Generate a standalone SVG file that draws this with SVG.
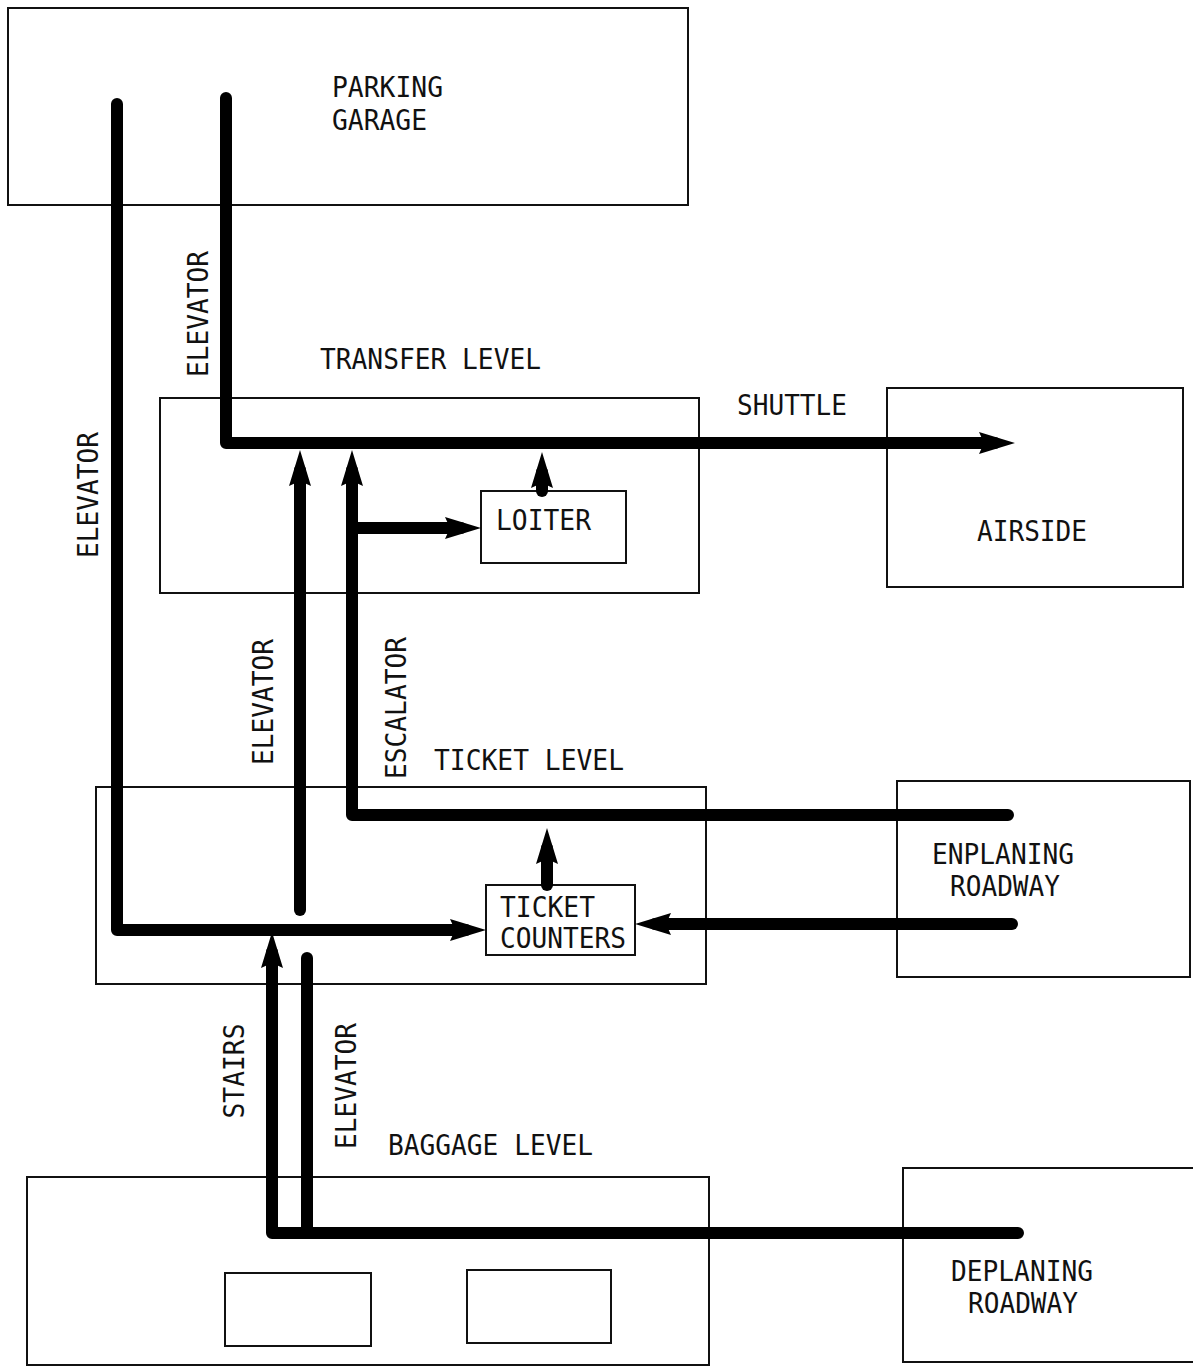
<svg xmlns="http://www.w3.org/2000/svg" width="1193" height="1370" viewBox="0 0 1193 1370">
<style>
.box{fill:none;stroke:#111;stroke-width:2}
.pipe{fill:none;stroke:#000;stroke-width:12;stroke-linecap:round;stroke-linejoin:round}
.arr{marker-end:url(#head)}
text{font-family:"DejaVu Sans Mono","Liberation Mono",monospace;font-size:28px;fill:#111;lengthAdjust:spacingAndGlyphs}
</style>
<defs>
<marker id="head" markerUnits="userSpaceOnUse" markerWidth="40" markerHeight="24" refX="16" refY="11" orient="auto">
<path d="M0,0 L36,11 L0,22 L5,11 z" fill="#000"/>
</marker>
</defs>
<rect width="1193" height="1370" fill="#fff"/>

<g id="parking-garage">
<rect class="box" x="8" y="8" width="680" height="197"/>
<text x="332" y="97" textLength="111" lengthAdjust="spacingAndGlyphs">PARKING</text>
<text x="332" y="130" textLength="95" lengthAdjust="spacingAndGlyphs">GARAGE</text>
</g>

<g id="transfer-level">
<rect class="box" x="160" y="398" width="539" height="195"/>
<text x="320" y="369" textLength="221" lengthAdjust="spacingAndGlyphs">TRANSFER LEVEL</text>
</g>

<g id="loiter">
<rect class="box" x="481" y="491" width="145" height="72"/>
<text x="496" y="530" textLength="95" lengthAdjust="spacingAndGlyphs">LOITER</text>
</g>

<g id="airside">
<rect class="box" x="887" y="388" width="296" height="199"/>
<text x="977" y="541" textLength="110" lengthAdjust="spacingAndGlyphs">AIRSIDE</text>
</g>

<g id="ticket-level">
<rect class="box" x="96" y="787" width="610" height="197"/>
<text x="434" y="770" textLength="190" lengthAdjust="spacingAndGlyphs">TICKET LEVEL</text>
</g>

<g id="ticket-counters">
<rect class="box" x="486" y="885" width="149" height="70"/>
<text x="500" y="917" textLength="95" lengthAdjust="spacingAndGlyphs">TICKET</text>
<text x="500" y="948" textLength="126" lengthAdjust="spacingAndGlyphs">COUNTERS</text>
</g>

<g id="enplaning-roadway">
<rect class="box" x="897" y="781" width="293" height="196"/>
<text x="932" y="864" textLength="142" lengthAdjust="spacingAndGlyphs">ENPLANING</text>
<text x="950" y="896" textLength="110" lengthAdjust="spacingAndGlyphs">ROADWAY</text>
</g>

<g id="baggage-level">
<rect class="box" x="27" y="1177" width="682" height="188"/>
<rect class="box" x="225" y="1273" width="146" height="73"/>
<rect class="box" x="467" y="1270" width="144" height="73"/>
<text x="388" y="1155" textLength="205" lengthAdjust="spacingAndGlyphs">BAGGAGE LEVEL</text>
</g>

<g id="deplaning-roadway">
<rect class="box" x="903" y="1168" width="300" height="194"/>
<text x="951" y="1281" textLength="142" lengthAdjust="spacingAndGlyphs">DEPLANING</text>
<text x="968" y="1313" textLength="110" lengthAdjust="spacingAndGlyphs">ROADWAY</text>
</g>

<g id="connectors">
<path class="pipe arr" d="M117,104 V930 H466"/>
<path class="pipe arr" d="M226,98 V443 H995"/>
<path class="pipe arr" d="M300,910 V470"/>
<path class="pipe arr" d="M1008,815 H352 V470"/>
<path class="pipe arr" d="M352,528 H461"/>
<path class="pipe arr" d="M542,491 V472"/>
<path class="pipe arr" d="M547,885 V848"/>
<path class="pipe arr" d="M1012,924 H655"/>
<path class="pipe arr" d="M1018,1233 H272 V952"/>
<path class="pipe" d="M307,958 V1233"/>
</g>

<g id="labels">
<text transform="translate(98,495) rotate(-90)" text-anchor="middle" textLength="126" lengthAdjust="spacingAndGlyphs">ELEVATOR</text>
<text transform="translate(208,314) rotate(-90)" text-anchor="middle" textLength="126" lengthAdjust="spacingAndGlyphs">ELEVATOR</text>
<text transform="translate(273,702) rotate(-90)" text-anchor="middle" textLength="126" lengthAdjust="spacingAndGlyphs">ELEVATOR</text>
<text transform="translate(406,708) rotate(-90)" text-anchor="middle" textLength="142" lengthAdjust="spacingAndGlyphs">ESCALATOR</text>
<text transform="translate(244,1071) rotate(-90)" text-anchor="middle" textLength="95" lengthAdjust="spacingAndGlyphs">STAIRS</text>
<text transform="translate(356,1086) rotate(-90)" text-anchor="middle" textLength="126" lengthAdjust="spacingAndGlyphs">ELEVATOR</text>
<text x="737" y="415" textLength="110" lengthAdjust="spacingAndGlyphs">SHUTTLE</text>
</g>
</svg>
